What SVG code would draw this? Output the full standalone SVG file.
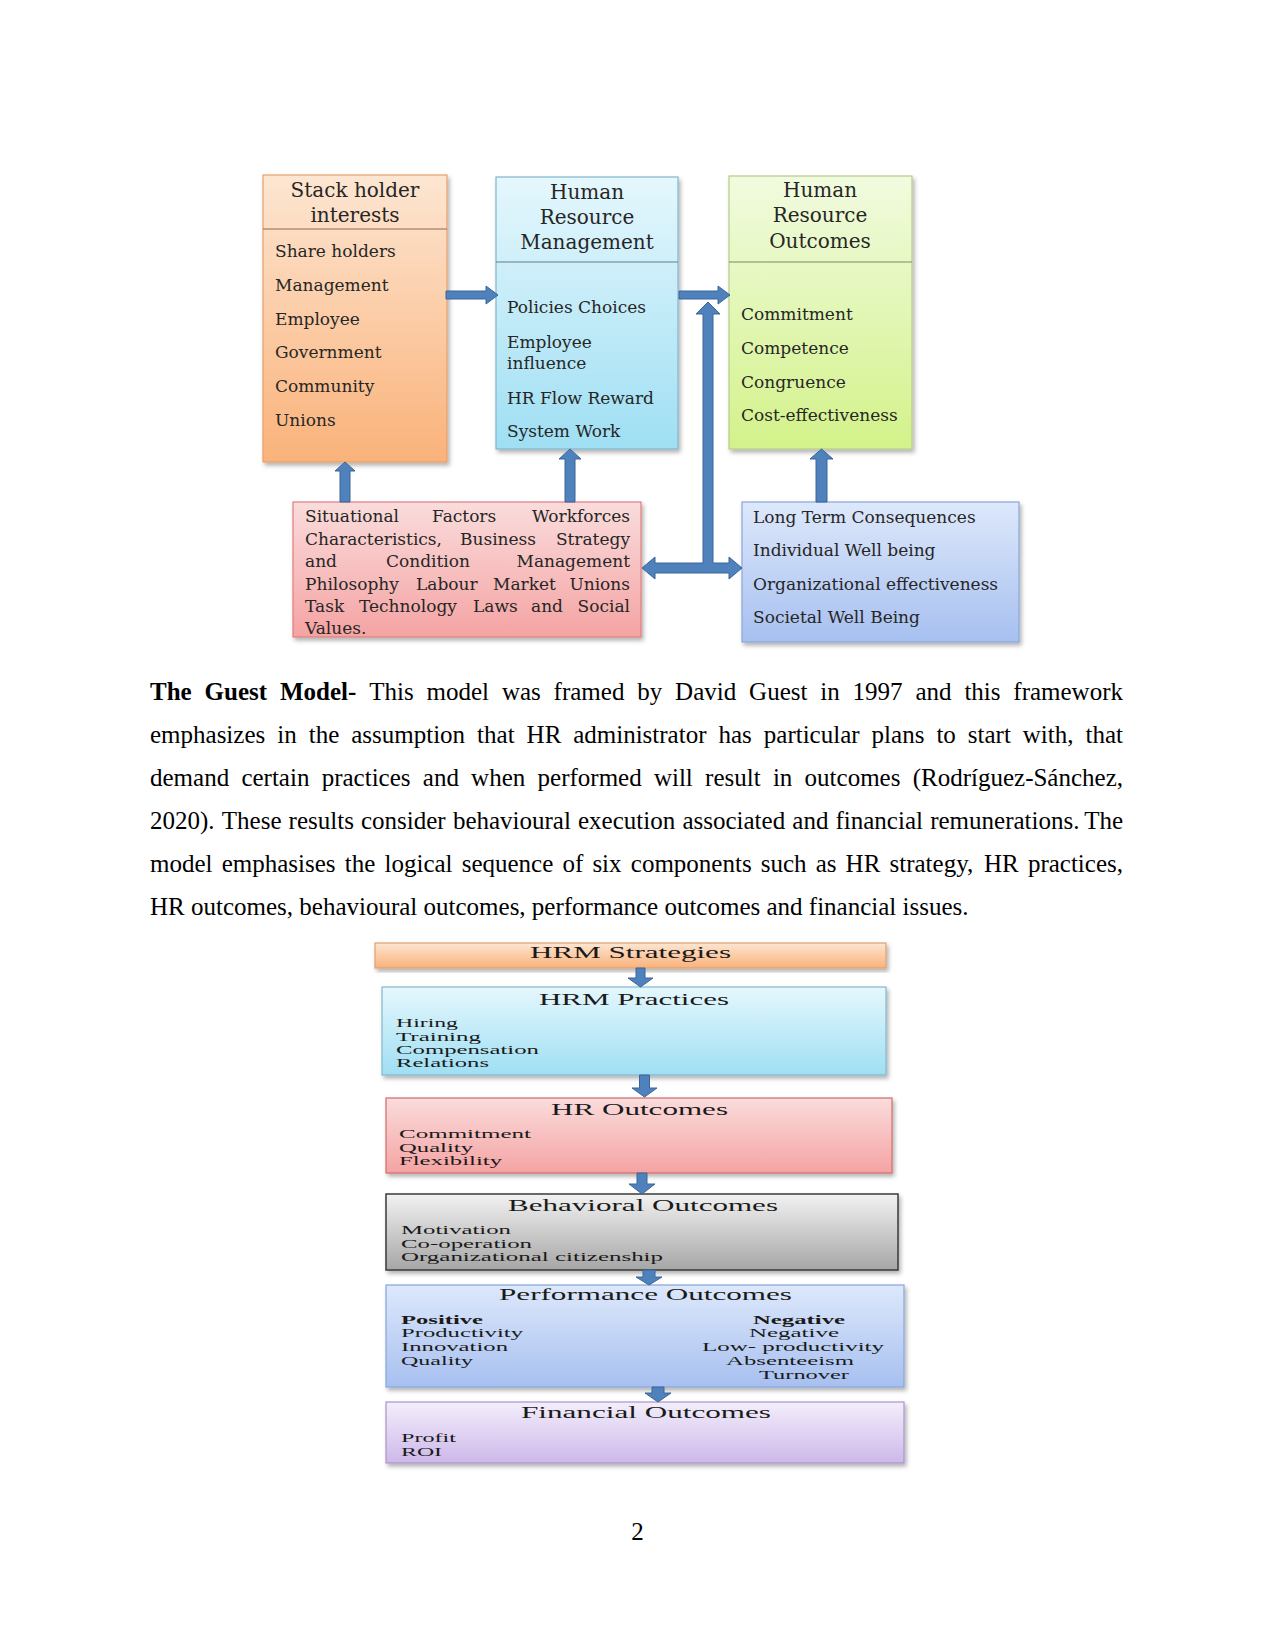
<svg xmlns="http://www.w3.org/2000/svg" width="1275" height="1651" viewBox="0 0 1275 1651">
<style>
.tt{font-family:"DejaVu Serif","Liberation Serif",serif;font-size:20px;fill:#262626;text-anchor:middle}
.ti{font-family:"DejaVu Serif","Liberation Serif",serif;font-size:17px;fill:#262626}
.te{font-family:"DejaVu Serif","Liberation Serif",serif;font-size:17px;fill:#262626;text-anchor:end}
.p{font-family:"Liberation Serif","Times New Roman",serif;font-size:25px;fill:#000}
.pe{font-family:"Liberation Serif","Times New Roman",serif;font-size:25px;fill:#000;text-anchor:end}
.bt{font-family:"Liberation Serif","Times New Roman",serif;font-size:17px;fill:#1a1a1a}
.bi{font-family:"Liberation Serif","Times New Roman",serif;font-size:13px;fill:#1a1a1a}
.bb{font-family:"Liberation Serif","Times New Roman",serif;font-size:13px;fill:#1a1a1a;font-weight:bold}
.arr{fill:#4f81bd;stroke:#3b6596;stroke-width:1}
</style>
<defs>
<filter id="sh" x="-5%" y="-5%" width="115%" height="125%"><feDropShadow dx="2" dy="3" stdDeviation="2" flood-color="#000" flood-opacity="0.3"/></filter>
<linearGradient id="gOr" x1="0" y1="0" x2="0" y2="1"><stop offset="0" stop-color="#fde6d2"/><stop offset="1" stop-color="#fab27a"/></linearGradient>
<linearGradient id="gCy" x1="0" y1="0" x2="0" y2="1"><stop offset="0" stop-color="#e5f7fd"/><stop offset="1" stop-color="#9fdff3"/></linearGradient>
<linearGradient id="gGr" x1="0" y1="0" x2="0" y2="1"><stop offset="0" stop-color="#f1fbdf"/><stop offset="1" stop-color="#d3f28a"/></linearGradient>
<linearGradient id="gRd" x1="0" y1="0" x2="0" y2="1"><stop offset="0" stop-color="#fadcdc"/><stop offset="1" stop-color="#f5a3a3"/></linearGradient>
<linearGradient id="gBl" x1="0" y1="0" x2="0" y2="1"><stop offset="0" stop-color="#dde8fb"/><stop offset="1" stop-color="#a7c0f0"/></linearGradient>
<linearGradient id="gGy" x1="0" y1="0" x2="0" y2="1"><stop offset="0" stop-color="#f2f2f2"/><stop offset="1" stop-color="#a6a6a6"/></linearGradient>
<linearGradient id="gPu" x1="0" y1="0" x2="0" y2="1"><stop offset="0" stop-color="#f3eefb"/><stop offset="1" stop-color="#cdb8ea"/></linearGradient>
</defs>
<rect width="1275" height="1651" fill="#fff"/>

<!-- Top diagram nodes -->
<g id="stakeholder">
<rect x="263" y="175" width="184" height="287" fill="url(#gOr)" stroke="#e6a06a" stroke-width="1.2" filter="url(#sh)"/>
<line x1="263" y1="229" x2="447" y2="229" stroke="#8a6c55" stroke-width="1.2"/>
<text class="tt" x="355" y="197">Stack holder</text>
<text class="tt" x="355" y="222">interests</text>
<text class="ti" x="275" y="257">Share holders</text>
<text class="ti" x="275" y="291">Management</text>
<text class="ti" x="275" y="325">Employee</text>
<text class="ti" x="275" y="358">Government</text>
<text class="ti" x="275" y="392">Community</text>
<text class="ti" x="275" y="426">Unions</text>
</g>
<g id="hrm">
<rect x="496" y="177" width="182" height="272" fill="url(#gCy)" stroke="#7fb6cc" stroke-width="1.2" filter="url(#sh)"/>
<line x1="496" y1="262" x2="678" y2="262" stroke="#5f7f8c" stroke-width="1.2"/>
<text class="tt" x="587" y="199">Human</text>
<text class="tt" x="587" y="224">Resource</text>
<text class="tt" x="587" y="249">Management</text>
<text class="ti" x="507" y="313">Policies Choices</text>
<text class="ti" x="507" y="348">Employee</text>
<text class="ti" x="507" y="369">influence</text>
<text class="ti" x="507" y="404">HR Flow Reward</text>
<text class="ti" x="507" y="437">System Work</text>
</g>
<g id="hro">
<rect x="729" y="176" width="183" height="273" fill="url(#gGr)" stroke="#b5cc8a" stroke-width="1.2" filter="url(#sh)"/>
<line x1="729" y1="262" x2="912" y2="262" stroke="#7a8a66" stroke-width="1.2"/>
<text class="tt" x="820" y="197">Human</text>
<text class="tt" x="820" y="222">Resource</text>
<text class="tt" x="820" y="248">Outcomes</text>
<text class="ti" x="741" y="320">Commitment</text>
<text class="ti" x="741" y="354">Competence</text>
<text class="ti" x="741" y="388">Congruence</text>
<text class="ti" x="741" y="421">Cost-effectiveness</text>
</g>
<g id="situational">
<rect x="293" y="502" width="348" height="135" fill="url(#gRd)" stroke="#df7d7d" stroke-width="1.2" filter="url(#sh)"/>
<text class="ti" y="522"><tspan x="305">Situational</tspan><tspan x="432">Factors</tspan></text><text class="te" x="630" y="522">Workforces</text>
<text class="ti" y="545"><tspan x="305">Characteristics,</tspan><tspan x="460">Business</tspan></text><text class="te" x="630" y="545">Strategy</text>
<text class="ti" y="567"><tspan x="305">and</tspan><tspan x="386">Condition</tspan></text><text class="te" x="630" y="567">Management</text>
<text class="ti" y="590"><tspan x="305">Philosophy</tspan><tspan x="416">Labour</tspan><tspan x="493">Market</tspan></text><text class="te" x="630" y="590">Unions</text>
<text class="ti" y="612"><tspan x="305">Task</tspan><tspan x="359">Technology</tspan><tspan x="473">Laws</tspan><tspan x="531">and</tspan></text><text class="te" x="630" y="612">Social</text>
<text class="ti" x="305" y="634">Values.</text>
</g>
<g id="longterm">
<rect x="742" y="502" width="277" height="140" fill="url(#gBl)" stroke="#8aa6d8" stroke-width="1.2" filter="url(#sh)"/>
<text class="ti" x="753" y="523">Long Term Consequences</text>
<text class="ti" x="753" y="556">Individual Well being</text>
<text class="ti" x="753" y="590">Organizational effectiveness</text>
<text class="ti" x="753" y="623">Societal Well Being</text>
</g>

<!-- Top diagram connectors -->
<g id="connectors-top">
<polygon class="arr" points="446,291 486,291 486,286 498,295 486,304 486,299 446,299"/>
<polygon class="arr" points="679,291 718,291 718,286 730,295 718,304 718,299 679,299"/>
<polygon class="arr" points="340,502 340,471 335,471 345,462 355,471 350,471 350,502"/>
<polygon class="arr" points="565,502 565,459 559,459 570,449 581,459 575,459 575,502"/>
<polygon class="arr" points="816,502 816,459 810,459 821.5,449 833,459 827,459 827,502"/>
<polygon class="arr" points="703,563 703,314 696,314 708,302 720,314 713,314 713,563 729,563 729,557 742,568 729,579 729,573 655,573 655,579 642,568 655,557 655,563"/>
</g>

<!-- Paragraph -->
<g id="paragraph">
<text class="p" y="700"><tspan x="150" font-weight="bold">The</tspan><tspan x="204.6" font-weight="bold">Guest</tspan><tspan x="279.9" font-weight="bold">Model-</tspan><tspan x="369.2">This</tspan><tspan x="426.5">model</tspan><tspan x="501.9">was</tspan><tspan x="553.6">framed</tspan><tspan x="637.3">by</tspan><tspan x="675.1">David</tspan><tspan x="749.1">Guest</tspan><tspan x="820.3">in</tspan><tspan x="852.6">1997</tspan><tspan x="915.4">and</tspan><tspan x="964.4">this</tspan></text><text class="pe" x="1123" y="700">framework</text>
<text class="p" y="743"><tspan x="150">emphasizes</tspan><tspan x="277.2">in</tspan><tspan x="308.7">the</tspan><tspan x="351.2">assumption</tspan><tspan x="477.1">that</tspan><tspan x="526.6">HR</tspan><tspan x="573.2">administrator</tspan><tspan x="718.5">has</tspan><tspan x="763.8">particular</tspan><tspan x="871.6">plans</tspan><tspan x="936.4">to</tspan><tspan x="967.8">start</tspan><tspan x="1022.8">with,</tspan></text><text class="pe" x="1123" y="743">that</text>
<text class="p" y="786"><tspan x="150">demand</tspan><tspan x="241.4">certain</tspan><tspan x="321.7">practices</tspan><tspan x="422.8">and</tspan><tspan x="471.1">when</tspan><tspan x="537.6">performed</tspan><tspan x="653.9">will</tspan><tspan x="705.1">result</tspan><tspan x="772.9">in</tspan><tspan x="804.6">outcomes</tspan></text><text class="pe" x="1123" y="786">(Rodríguez-Sánchez,</text>
<text class="p" y="829"><tspan x="150">2020).</tspan><tspan x="221.8">These</tspan><tspan x="288.6">results</tspan><tspan x="361">consider</tspan><tspan x="452.9">behavioural</tspan><tspan x="578">execution</tspan><tspan x="682.4">associated</tspan><tspan x="792.3">and</tspan><tspan x="835.5">financial</tspan><tspan x="930.2">remunerations.</tspan></text><text class="pe" x="1123" y="829">The</text>
<text class="p" y="872"><tspan x="150">model</tspan><tspan x="221.7">emphasises</tspan><tspan x="344.7">the</tspan><tspan x="384.5">logical</tspan><tspan x="461.7">sequence</tspan><tspan x="562.5">of</tspan><tspan x="592.4">six</tspan><tspan x="630.8">components</tspan><tspan x="760.7">such</tspan><tspan x="815.7">as</tspan><tspan x="845.6">HR</tspan><tspan x="889.5">strategy,</tspan><tspan x="984">HR</tspan></text><text class="pe" x="1123" y="872">practices,</text>
<text class="p" x="150" y="915">HR outcomes, behavioural outcomes, performance outcomes and financial issues.</text>
</g>

<!-- Bottom diagram nodes -->
<g id="hrm-strategies">
<rect x="375" y="943" width="511" height="25" fill="url(#gOr)" stroke="#e0a070" stroke-width="1.2" filter="url(#sh)"/>
<text class="bt" x="530" y="958" textLength="201" lengthAdjust="spacingAndGlyphs">HRM Strategies</text>
</g>
<g id="hrm-practices">
<rect x="382" y="987" width="504" height="88" fill="url(#gCy)" stroke="#80b8cc" stroke-width="1.2" filter="url(#sh)"/>
<text class="bt" x="539" y="1005" textLength="190" lengthAdjust="spacingAndGlyphs">HRM Practices</text>
<text class="bi" x="396" y="1027" textLength="62" lengthAdjust="spacingAndGlyphs">Hiring</text>
<text class="bi" x="396" y="1041" textLength="85" lengthAdjust="spacingAndGlyphs">Training</text>
<text class="bi" x="396" y="1054" textLength="143" lengthAdjust="spacingAndGlyphs">Compensation</text>
<text class="bi" x="396" y="1067" textLength="93" lengthAdjust="spacingAndGlyphs">Relations</text>
</g>
<g id="hr-outcomes">
<rect x="386" y="1098" width="506" height="75" fill="url(#gRd)" stroke="#d46a6a" stroke-width="1.2" filter="url(#sh)"/>
<text class="bt" x="551" y="1115" textLength="177" lengthAdjust="spacingAndGlyphs">HR Outcomes</text>
<text class="bi" x="399" y="1138" textLength="132" lengthAdjust="spacingAndGlyphs">Commitment</text>
<text class="bi" x="399" y="1152" textLength="74" lengthAdjust="spacingAndGlyphs">Quality</text>
<text class="bi" x="399" y="1165" textLength="103" lengthAdjust="spacingAndGlyphs">Flexibility</text>
</g>
<g id="behavioral-outcomes">
<rect x="386" y="1194" width="512" height="76" fill="url(#gGy)" stroke="#3a3a3a" stroke-width="1.5" filter="url(#sh)"/>
<text class="bt" x="508" y="1211" textLength="270" lengthAdjust="spacingAndGlyphs">Behavioral Outcomes</text>
<text class="bi" x="401" y="1234" textLength="110" lengthAdjust="spacingAndGlyphs">Motivation</text>
<text class="bi" x="401" y="1248" textLength="131" lengthAdjust="spacingAndGlyphs">Co-operation</text>
<text class="bi" x="401" y="1261" textLength="262" lengthAdjust="spacingAndGlyphs">Organizational citizenship</text>
</g>
<g id="performance-outcomes">
<rect x="386" y="1285" width="518" height="102" fill="url(#gBl)" stroke="#86a5dc" stroke-width="1.2" filter="url(#sh)"/>
<text class="bt" x="499" y="1300" textLength="293" lengthAdjust="spacingAndGlyphs">Performance Outcomes</text>
<text class="bb" x="401" y="1324" textLength="82" lengthAdjust="spacingAndGlyphs">Positive</text>
<text class="bi" x="401" y="1337" textLength="122" lengthAdjust="spacingAndGlyphs">Productivity</text>
<text class="bi" x="401" y="1351" textLength="107" lengthAdjust="spacingAndGlyphs">Innovation</text>
<text class="bi" x="401" y="1365" textLength="72" lengthAdjust="spacingAndGlyphs">Quality</text>
<text class="bb" x="753" y="1324" textLength="92" lengthAdjust="spacingAndGlyphs">Negative</text>
<text class="bi" x="749" y="1337" textLength="90" lengthAdjust="spacingAndGlyphs">Negative</text>
<text class="bi" x="702" y="1351" textLength="182" lengthAdjust="spacingAndGlyphs">Low- productivity</text>
<text class="bi" x="726" y="1365" textLength="128" lengthAdjust="spacingAndGlyphs">Absenteeism</text>
<text class="bi" x="759" y="1379" textLength="90" lengthAdjust="spacingAndGlyphs">Turnover</text>
</g>
<g id="financial-outcomes">
<rect x="386" y="1402" width="518" height="61" fill="url(#gPu)" stroke="#a994cc" stroke-width="1.2" filter="url(#sh)"/>
<text class="bt" x="521" y="1418" textLength="250" lengthAdjust="spacingAndGlyphs">Financial Outcomes</text>
<text class="bi" x="401" y="1442" textLength="55" lengthAdjust="spacingAndGlyphs">Profit</text>
<text class="bi" x="401" y="1456" textLength="41" lengthAdjust="spacingAndGlyphs">ROI</text>
</g>

<!-- Bottom diagram connectors -->
<g id="connectors-bottom">
<polygon class="arr" points="636,968 645,968 645,978 653,978 640.5,987 628,978 636,978"/>
<polygon class="arr" points="639.5,1075 649.5,1075 649.5,1088 657,1088 644.5,1097 632,1088 639.5,1088"/>
<polygon class="arr" points="637,1173 647,1173 647,1184 655,1184 642,1194 629,1184 637,1184"/>
<polygon class="arr" points="643,1270 655,1270 655,1277 662,1277 649,1285 636,1277 643,1277"/>
<polygon class="arr" points="652,1387 664,1387 664,1393 671,1393 658,1402 645,1393 652,1393"/>
</g>

<text class="p" x="637.5" y="1540" text-anchor="middle">2</text>
</svg>
